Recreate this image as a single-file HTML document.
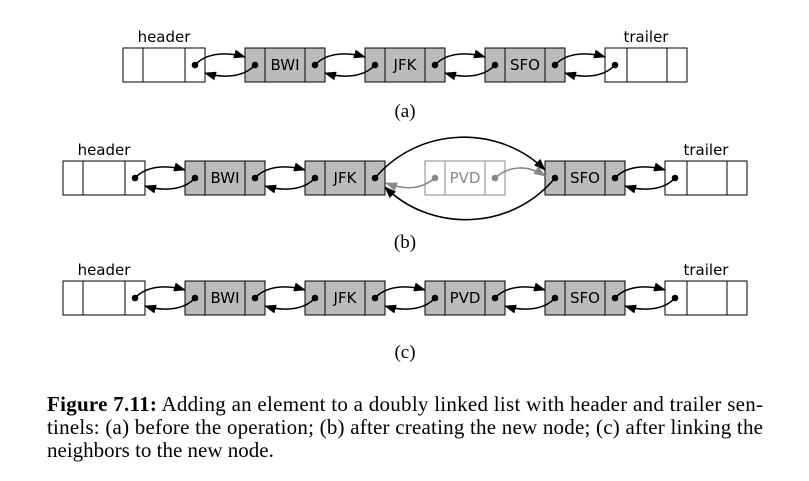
<!DOCTYPE html>
<html><head><meta charset="utf-8"><style>
html,body{margin:0;padding:0;background:#fff;}
svg{display:block;}
.s{font-family:"DejaVu Sans","Liberation Sans",sans-serif;font-size:15px;}
.r{font-family:"Liberation Serif",serif;font-size:21px;}
</style></head><body>
<svg width="809" height="481" viewBox="0 0 809 481" xmlns="http://www.w3.org/2000/svg">
<defs>
<marker id="a" markerUnits="userSpaceOnUse" markerWidth="12" markerHeight="9" refX="11" refY="4.5" orient="auto"><path d="M0,0 L12,4.5 L0,9 z" fill="#000"/></marker>
<marker id="g" markerUnits="userSpaceOnUse" markerWidth="12" markerHeight="9" refX="11" refY="4.5" orient="auto"><path d="M0,0 L12,4.5 L0,9 z" fill="#888"/></marker>
</defs>
<g stroke="#000" stroke-width="1">
<rect x="123" y="48" width="82" height="34" fill="#fff"/><line x1="143" y1="48" x2="143" y2="82"/><line x1="185" y1="48" x2="185" y2="82"/>
<rect x="245" y="48" width="80" height="34" fill="#bbb"/><line x1="265" y1="48" x2="265" y2="82"/><line x1="305" y1="48" x2="305" y2="82"/>
<rect x="365" y="48" width="80" height="34" fill="#bbb"/><line x1="385" y1="48" x2="385" y2="82"/><line x1="425" y1="48" x2="425" y2="82"/>
<rect x="485" y="48" width="80" height="34" fill="#bbb"/><line x1="505" y1="48" x2="505" y2="82"/><line x1="545" y1="48" x2="545" y2="82"/>
<rect x="605" y="48" width="82" height="34" fill="#fff"/><line x1="627" y1="48" x2="627" y2="82"/><line x1="667" y1="48" x2="667" y2="82"/>
<rect x="63" y="161" width="82" height="34" fill="#fff"/><line x1="83" y1="161" x2="83" y2="195"/><line x1="125" y1="161" x2="125" y2="195"/>
<rect x="185" y="161" width="80" height="34" fill="#bbb"/><line x1="205" y1="161" x2="205" y2="195"/><line x1="245" y1="161" x2="245" y2="195"/>
<rect x="305" y="161" width="80" height="34" fill="#bbb"/><line x1="325" y1="161" x2="325" y2="195"/><line x1="365" y1="161" x2="365" y2="195"/>
<g stroke="#888"><rect x="425" y="161" width="80" height="34" fill="#fff"/><line x1="445" y1="161" x2="445" y2="195"/><line x1="485" y1="161" x2="485" y2="195"/></g>
<rect x="545" y="161" width="80" height="34" fill="#bbb"/><line x1="565" y1="161" x2="565" y2="195"/><line x1="605" y1="161" x2="605" y2="195"/>
<rect x="665" y="161" width="82" height="34" fill="#fff"/><line x1="687" y1="161" x2="687" y2="195"/><line x1="727" y1="161" x2="727" y2="195"/>
<rect x="63" y="281" width="82" height="34" fill="#fff"/><line x1="83" y1="281" x2="83" y2="315"/><line x1="125" y1="281" x2="125" y2="315"/>
<rect x="185" y="281" width="80" height="34" fill="#bbb"/><line x1="205" y1="281" x2="205" y2="315"/><line x1="245" y1="281" x2="245" y2="315"/>
<rect x="305" y="281" width="80" height="34" fill="#bbb"/><line x1="325" y1="281" x2="325" y2="315"/><line x1="365" y1="281" x2="365" y2="315"/>
<rect x="425" y="281" width="80" height="34" fill="#bbb"/><line x1="445" y1="281" x2="445" y2="315"/><line x1="485" y1="281" x2="485" y2="315"/>
<rect x="545" y="281" width="80" height="34" fill="#bbb"/><line x1="565" y1="281" x2="565" y2="315"/><line x1="605" y1="281" x2="605" y2="315"/>
<rect x="665" y="281" width="82" height="34" fill="#fff"/><line x1="687" y1="281" x2="687" y2="315"/><line x1="727" y1="281" x2="727" y2="315"/>
</g>
<g fill="none" stroke="#000" stroke-width="1.6" marker-end="url(#a)">
<path d="M195,65 C207,52 228,52 245,57"/><path d="M255,65 C243,78 222,78 205,73"/>
<path d="M315,65 C327,52 348,52 365,57"/><path d="M375,65 C363,78 342,78 325,73"/>
<path d="M435,65 C447,52 468,52 485,57"/><path d="M495,65 C483,78 462,78 445,73"/>
<path d="M555,65 C567,52 588,52 605,57"/><path d="M615,65 C603,78 582,78 565,73"/>
<path d="M135,178 C147,165 168,165 185,170"/><path d="M195,178 C183,191 162,191 145,186"/>
<path d="M255,178 C267,165 288,165 305,170"/><path d="M315,178 C303,191 282,191 265,186"/>
<path d="M615,178 C627,165 648,165 665,170"/><path d="M675,178 C663,191 642,191 625,186"/>
<path d="M375,178 C420,125 500,125 545,170"/><path d="M555,178 C510,232 430,232 385,187"/>
<path d="M135,298 C147,285 168,285 185,290"/><path d="M195,298 C183,311 162,311 145,306"/>
<path d="M255,298 C267,285 288,285 305,290"/><path d="M315,298 C303,311 282,311 265,306"/>
<path d="M375,298 C387,285 408,285 425,290"/><path d="M435,298 C423,311 402,311 385,306"/>
<path d="M495,298 C507,285 528,285 545,290"/><path d="M555,298 C543,311 522,311 505,306"/>
<path d="M615,298 C627,285 648,285 665,290"/><path d="M675,298 C663,311 642,311 625,306"/>
</g>
<g fill="none" stroke="#888" stroke-width="1.6" marker-end="url(#g)">
<path d="M435,178 C420,190 405,190 386,183"/><path d="M495,178 C510,165 528,165 545,176"/>
</g>
<g fill="#000">
<circle cx="195" cy="65" r="3.3"/><circle cx="255" cy="65" r="3.3"/><circle cx="315" cy="65" r="3.3"/><circle cx="375" cy="65" r="3.3"/><circle cx="435" cy="65" r="3.3"/><circle cx="495" cy="65" r="3.3"/><circle cx="555" cy="65" r="3.3"/><circle cx="615" cy="65" r="3.3"/>
<circle cx="135" cy="178" r="3.3"/><circle cx="195" cy="178" r="3.3"/><circle cx="255" cy="178" r="3.3"/><circle cx="315" cy="178" r="3.3"/><circle cx="375" cy="178" r="3.3"/><circle cx="555" cy="178" r="3.3"/><circle cx="615" cy="178" r="3.3"/><circle cx="675" cy="178" r="3.3"/>
<circle cx="135" cy="298" r="3.3"/><circle cx="195" cy="298" r="3.3"/><circle cx="255" cy="298" r="3.3"/><circle cx="315" cy="298" r="3.3"/><circle cx="375" cy="298" r="3.3"/><circle cx="435" cy="298" r="3.3"/><circle cx="495" cy="298" r="3.3"/><circle cx="555" cy="298" r="3.3"/><circle cx="615" cy="298" r="3.3"/><circle cx="675" cy="298" r="3.3"/>
</g>
<g fill="#888"><circle cx="435" cy="178" r="3.3"/><circle cx="495" cy="178" r="3.3"/></g>
<g class="s" text-anchor="middle" fill="#000">
<text x="164" y="42">header</text><text x="646" y="42">trailer</text>
<text x="285" y="70">BWI</text><text x="405" y="70">JFK</text><text x="525" y="70">SFO</text>
<text x="104" y="155">header</text><text x="706" y="155">trailer</text>
<text x="225" y="183">BWI</text><text x="345" y="183">JFK</text><text x="465" y="183" fill="#888">PVD</text><text x="585" y="183">SFO</text>
<text x="104" y="275">header</text><text x="706" y="275">trailer</text>
<text x="225" y="303">BWI</text><text x="345" y="303">JFK</text><text x="465" y="303">PVD</text><text x="585" y="303">SFO</text>
</g>
<g class="r" fill="#000">
<text x="405" y="117" text-anchor="middle" font-size="19">(a)</text>
<text x="405" y="248" text-anchor="middle" font-size="19">(b)</text>
<text x="405" y="358" text-anchor="middle" font-size="19">(c)</text>
<text x="47" y="411" textLength="716" lengthAdjust="spacing"><tspan font-weight="bold">Figure 7.11:</tspan> Adding an element to a doubly linked list with header and trailer sen-</text>
<text x="47" y="434" textLength="716" lengthAdjust="spacing">tinels: (a) before the operation; (b) after creating the new node; (c) after linking the</text>
<text x="47" y="457">neighbors to the new node.</text>
</g>
</svg>
</body></html>
